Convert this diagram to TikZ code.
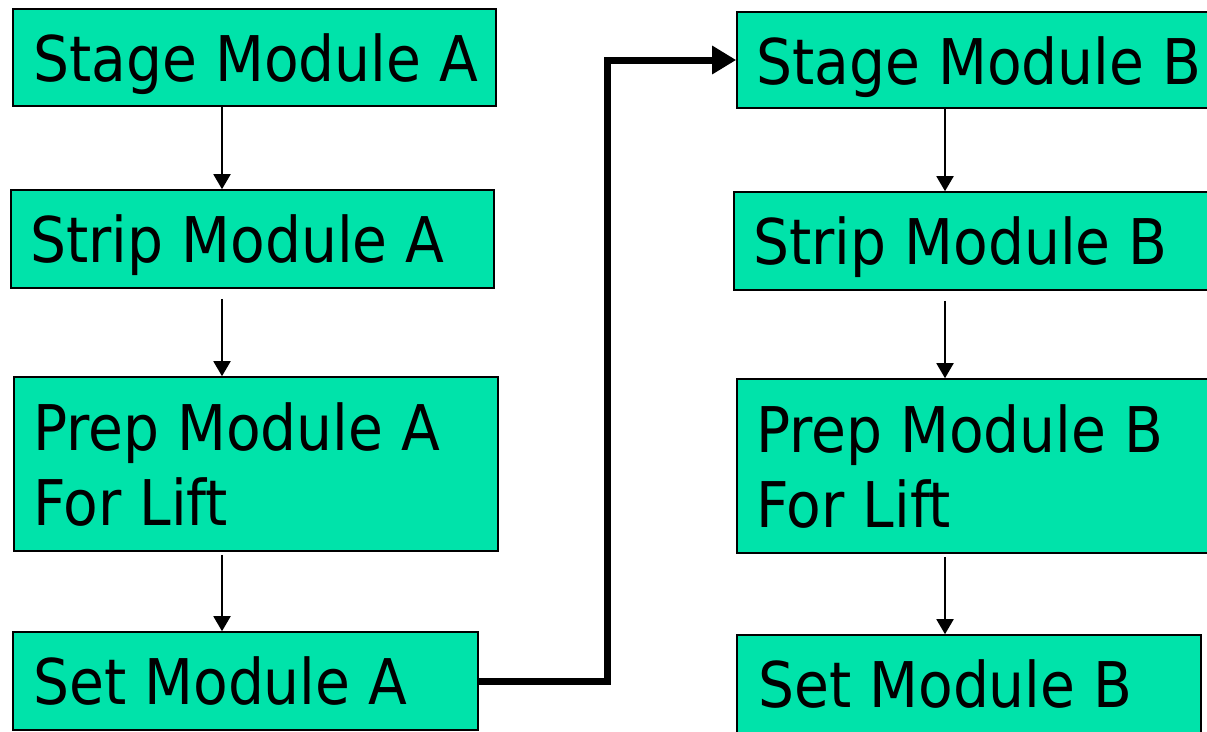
\documentclass[tikz,border=0pt]{standalone}
\usepackage{fontspec}
\setmainfont{DejaVu Sans Condensed}
\usetikzlibrary{arrows.meta}
\definecolor{boxfill}{RGB}{0,227,170}
\begin{document}
\begin{tikzpicture}[x=1pt,y=-1pt,
  modbox/.style={draw=black,fill=boxfill,line width=1.6pt,inner sep=0pt,rectangle},
  lbl/.style={inner sep=0pt,anchor=base west,align=left,font=\fontsize{63}{75}\selectfont},
  thinarrow/.style={line width=1.9pt,-{Triangle[width=17pt,length=15pt]}},
  thickarrow/.style={line width=7pt,line join=miter,-{Triangle[width=27pt,length=24pt]}}]
\useasboundingbox (0,0) rectangle (1207,731);
\clip (0,0) rectangle (1207,731);
% boxes column A
\node[modbox,minimum width=483pt,minimum height=97pt] (SA) at (254.5,57.5) {};
\node[modbox,minimum width=483pt,minimum height=98pt] (TA) at (252.5,239) {};
\node[modbox,minimum width=484pt,minimum height=174pt] (PA) at (256,464) {};
\node[modbox,minimum width=465pt,minimum height=98pt] (EA) at (245.5,681) {};
% boxes column B
\node[modbox,minimum width=478pt,minimum height=96pt] (SB) at (976,60) {};
\node[modbox,minimum width=481pt,minimum height=98pt] (TB) at (974.5,241) {};
\node[modbox,minimum width=478pt,minimum height=174pt] (PB) at (976,466) {};
\node[modbox,minimum width=464pt,minimum height=98pt] (EB) at (969,684) {};
% labels
\node[lbl] (lSA) at ([xshift=21pt,yshift=-73pt]SA.north west) {Stage Module A};
\node[lbl] (lTA) at ([xshift=20pt,yshift=-73pt]TA.north west) {Strip Module A};
\node[lbl] (lPA) at ([xshift=20pt,yshift=-149pt]PA.north west) {Prep Module A\\For Lift};
\node[lbl] (lEA) at ([xshift=21pt,yshift=-73pt]EA.north west) {Set Module A};
\node[lbl] (lSB) at ([xshift=20pt,yshift=-73pt]SB.north west) {Stage Module B};
\node[lbl] (lTB) at ([xshift=20pt,yshift=-73pt]TB.north west) {Strip Module B};
\node[lbl] (lPB) at ([xshift=20pt,yshift=-149pt]PB.north west) {Prep Module B\\For Lift};
\node[lbl] (lEB) at ([xshift=22pt,yshift=-73pt]EB.north west) {Set Module B};
% arrows
\coordinate (xa) at (222,0);
\coordinate (xb) at (945,0);
\coordinate (vx) at (607,0);
\draw[thinarrow] (SA.south -| xa) -- (TA.north -| xa);
\draw[thinarrow,shorten <=10pt] (TA.south -| xa) -- (PA.north -| xa);
\draw[thinarrow,shorten <=3pt] (PA.south -| xa) -- (EA.north -| xa);
\draw[thinarrow] (SB.south -| xb) -- (TB.north -| xb);
\draw[thinarrow,shorten <=10pt] (TB.south -| xb) -- (PB.north -| xb);
\draw[thinarrow,shorten <=3pt] (PB.south -| xb) -- (EB.north -| xb);
\draw[thickarrow] (EA.east) -- (EA.east -| vx) -- (vx |- SB.west) -- (SB.west);
\end{tikzpicture}
\end{document}
